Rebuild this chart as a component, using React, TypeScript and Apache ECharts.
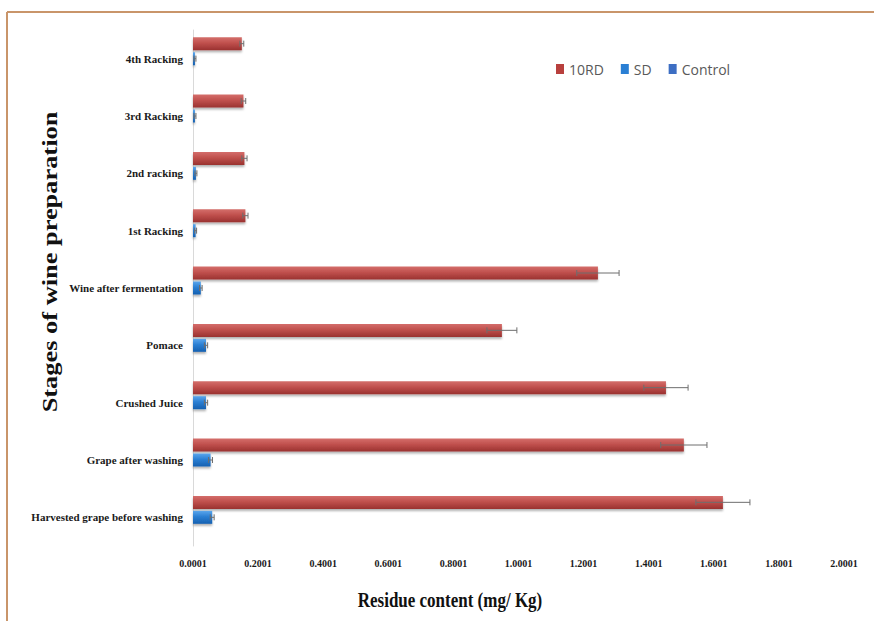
import { useEffect, useRef } from "react";
import * as echarts from "echarts";

// Stages listed top to bottom
const stages = [
  "4th Racking",
  "3rd Racking",
  "2nd racking",
  "1st Racking",
  "Wine after fermentation",
  "Pomace",
  "Crushed Juice",
  "Grape after washing",
  "Harvested grape before washing",
];

// Residue content (mg/Kg)
const rd10 = [0.15, 0.155, 0.158, 0.161, 1.244, 0.949, 1.453, 1.508, 1.628];
const rd10Err = [0.006, 0.007, 0.008, 0.008, 0.065, 0.046, 0.068, 0.071, 0.083];
const sdValues = [0.006, 0.006, 0.009, 0.008, 0.024, 0.04, 0.04, 0.054, 0.059];
const sdErr = [0.003, 0.003, 0.003, 0.003, 0.004, 0.005, 0.005, 0.006, 0.006];
const control = [0, 0, 0, 0, 0, 0, 0, 0, 0];

const xTickLabels = [
  "0.0001", "0.2001", "0.4001", "0.6001", "0.8001", "1.0001",
  "1.2001", "1.4001", "1.6001", "1.8001", "2.0001",
];

const BAR_W = 13;
const BAR_GAP = "15%";
const BAR_STEP = 15;
const SERIF = "'Liberation Serif', 'Times New Roman', serif";

function errorBars(name: string, values: number[], errs: number[], offset: number) {
  return {
    type: "custom",
    name,
    z: 10,
    silent: true,
    encode: { x: 0, y: 1 },
    data: values.map((v, i) => [v, i, errs[i]]),
    renderItem: (_params: any, api: any) => {
      const v = api.value(0);
      const idx = api.value(1);
      const e = api.value(2);
      const lo = api.coord([Math.max(0, v - e), idx]);
      const hi = api.coord([v + e, idx]);
      const y = lo[1] + offset;
      const cap = 3;
      const style = { stroke: "#6e6e6e", lineWidth: 1 };
      return {
        type: "group",
        children: [
          { type: "line", shape: { x1: lo[0], y1: y, x2: hi[0], y2: y }, style },
          { type: "line", shape: { x1: hi[0], y1: y - cap, x2: hi[0], y2: y + cap }, style },
          { type: "line", shape: { x1: lo[0], y1: y - cap, x2: lo[0], y2: y + cap }, style },
        ],
      };
    },
  };
}

export default function App() {
  const ref = useRef<HTMLDivElement>(null);

  useEffect(() => {
    if (!ref.current) return;
    const chart = echarts.init(ref.current, undefined, { renderer: "svg" });

    const redFill = new echarts.graphic.LinearGradient(0, 0, 0, 1, [
      { offset: 0, color: "#D46E6B" },
      { offset: 0.45, color: "#C0504D" },
      { offset: 1, color: "#9A3230" },
    ]);
    const blueFill = new echarts.graphic.LinearGradient(0, 0, 0, 1, [
      { offset: 0, color: "#5AA6EC" },
      { offset: 0.45, color: "#2B7FD3" },
      { offset: 1, color: "#1560B0" },
    ]);

    chart.setOption({
      animation: false,
      backgroundColor: "#ffffff",
      grid: { left: 193, top: 30, width: 651, height: 516, containLabel: false },
      legend: {
        left: 551,
        top: 57,
        itemWidth: 8,
        itemHeight: 10,
        itemGap: 17,
        icon: "rect",
        textStyle: { fontFamily: "'Open Sans', sans-serif", fontSize: 14, color: "#595959" },
        data: [
          { name: "10RD", itemStyle: { color: "#B8403D" } },
          { name: "SD", itemStyle: { color: "#2A7FD4" } },
          { name: "Control", itemStyle: { color: "#3D6EC3" } },
        ],
      },
      xAxis: {
        type: "value",
        min: 0,
        max: 2,
        interval: 0.2,
        axisLine: { show: false },
        axisTick: { show: false },
        splitLine: { show: false },
        axisLabel: {
          margin: 12,
          fontFamily: SERIF,
          fontWeight: "bold",
          fontSize: 10,
          color: "#1a1a1a",
          formatter: (v: number) => xTickLabels[Math.round(v / 0.2)] ?? "",
        },
      },
      yAxis: {
        type: "category",
        data: stages,
        inverse: true,
        axisLine: { show: true, lineStyle: { color: "#D9D9D9", width: 1 } },
        axisTick: { show: false },
        axisLabel: {
          margin: 10,
          fontFamily: SERIF,
          fontWeight: "bold",
          fontSize: 11,
          color: "#1a1a1a",
        },
      },
      series: [
        {
          name: "10RD",
          type: "bar",
          data: rd10,
          barWidth: BAR_W,
          barGap: BAR_GAP,
          itemStyle: {
            color: redFill,
            shadowColor: "rgba(0,0,0,0.3)",
            shadowBlur: 2,
            shadowOffsetY: 2,
          },
        },
        {
          name: "SD",
          type: "bar",
          data: sdValues,
          barWidth: BAR_W,
          barGap: BAR_GAP,
          itemStyle: {
            color: blueFill,
            shadowColor: "rgba(0,0,0,0.3)",
            shadowBlur: 2,
            shadowOffsetY: 2,
          },
        },
        {
          name: "Control",
          type: "bar",
          data: control,
          barWidth: BAR_W,
          barGap: BAR_GAP,
          itemStyle: { color: "#3D6EC3" },
        },
        errorBars("10RD err", rd10, rd10Err, -BAR_STEP),
        errorBars("SD err", sdValues, sdErr, 0),
      ],
      graphic: [
        {
          type: "line",
          shape: { x1: 7, y1: 12, x2: 874, y2: 12 },
          style: { stroke: "#C9956A", lineWidth: 2 },
        },
        {
          type: "line",
          shape: { x1: 7, y1: 12, x2: 7, y2: 621 },
          style: { stroke: "#C9956A", lineWidth: 2 },
        },
        {
          type: "text",
          x: 49,
          y: 262,
          rotation: Math.PI / 2,
          scaleX: 1.2,
          style: {
            text: "Stages of wine preparation",
            fontFamily: SERIF,
            fontWeight: "bold",
            fontSize: 22,
            fill: "#111111",
            align: "center",
            verticalAlign: "middle",
          },
        },
        {
          type: "text",
          x: 450,
          y: 600,
          scaleX: 0.85,
          style: {
            text: "Residue content (mg/ Kg)",
            fontFamily: SERIF,
            fontWeight: "bold",
            fontSize: 20,
            fill: "#111111",
            align: "center",
            verticalAlign: "middle",
          },
        },
      ],
    });

    return () => chart.dispose();
  }, []);

  return (
    <div
      ref={ref}
      style={{ position: "fixed", left: 0, top: 0, width: 874, height: 621 }}
    />
  );
}
